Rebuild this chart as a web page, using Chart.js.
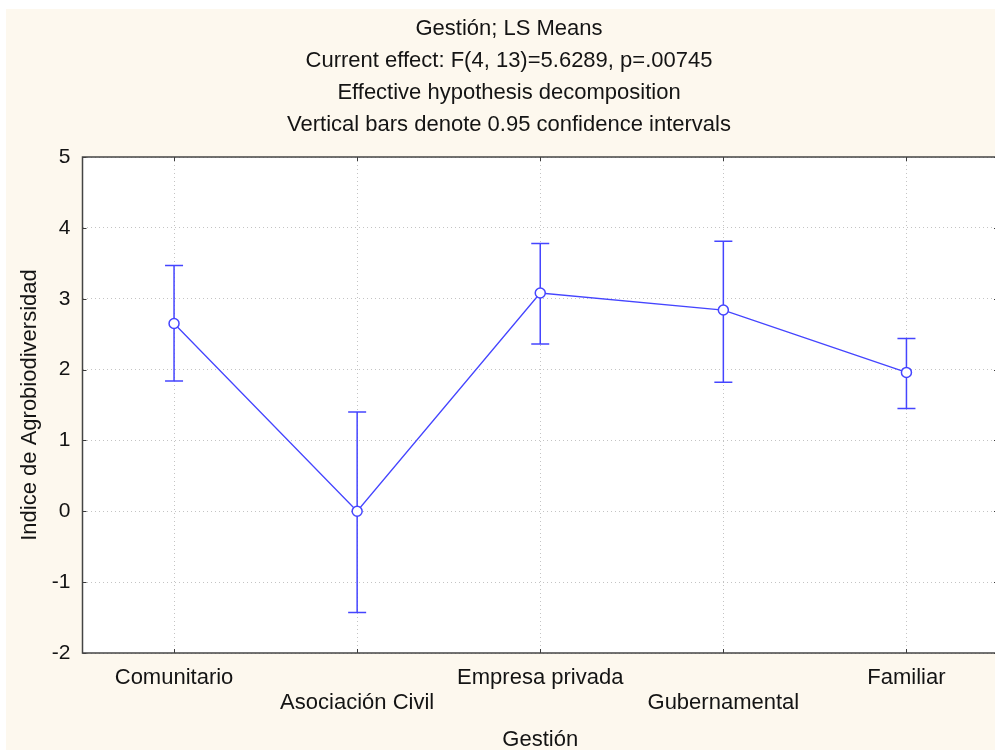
<!DOCTYPE html>
<html lang="es">
<head>
    <meta charset="UTF-8">
    <title>Gestión; LS Means</title>
    <script src="https://cdn.jsdelivr.net/npm/chart.js"></script>
    <style>
        body {
            margin: 0;
            overflow: hidden;
            background: #ffffff;
        }
        #lsChart {
            display: block;
        }
    </style>
</head>
<body>

<canvas id="lsChart" width="998" height="750"></canvas>

<script>
    // Data
    const categories = ['Comunitario', 'Asociación Civil', 'Empresa privada', 'Gubernamental', 'Familiar'];
    const means = [2.65, 0.0, 3.08, 2.84, 1.96];
    const upperCI = [3.47, 1.40, 3.78, 3.81, 2.44];
    const lowerCI = [1.84, -1.43, 2.36, 1.82, 1.45];
    const titleLines = [
        'Gestión; LS Means',
        'Current effect: F(4, 13)=5.6289, p=.00745',
        'Effective hypothesis decomposition',
        'Vertical bars denote 0.95 confidence intervals'
    ];

    const FONT = "'Liberation Sans', Arial, sans-serif";
    const BLUE = '#4545ff';

    // background, titles, frame, inner ticks and error bars
    const decorPlugin = {
        id: 'decor',
        beforeDraw(chart) {
            const c = chart.ctx;
            c.save();
            c.fillStyle = '#ffffff';
            c.fillRect(0, 0, chart.width, chart.height);
            c.fillStyle = '#fdf8ee';
            c.fillRect(6, 9, chart.width - 6, chart.height - 9);
            c.fillStyle = '#ffffff';
            const a = chart.chartArea;
            c.fillRect(a.left, a.top, a.right - a.left, a.bottom - a.top);

            c.fillStyle = '#141414';
            c.font = '22px ' + FONT;
            c.textAlign = 'center';
            c.textBaseline = 'middle';
            titleLines.forEach((t, i) => c.fillText(t, 509, 29 + i * 32));
            c.restore();
        },
        beforeDatasetsDraw(chart) {
            const c = chart.ctx;
            const xs = chart.scales.x, ys = chart.scales.y;
            c.save();
            c.strokeStyle = BLUE;
            c.lineWidth = 1.5;
            categories.forEach((cat, i) => {
                const x = xs.getPixelForValue(i);
                const yt = ys.getPixelForValue(upperCI[i]);
                const yb = ys.getPixelForValue(lowerCI[i]);
                c.beginPath();
                c.moveTo(x, yt); c.lineTo(x, yb);
                c.moveTo(x - 9, yt); c.lineTo(x + 9, yt);
                c.moveTo(x - 9, yb); c.lineTo(x + 9, yb);
                c.stroke();
            });
            c.restore();
        },
        afterDraw(chart) {
            const c = chart.ctx;
            const a = chart.chartArea;
            const xs = chart.scales.x, ys = chart.scales.y;
            c.save();
            c.strokeStyle = '#3a3a3a';
            c.lineWidth = 1;
            c.beginPath();
            ys.ticks.forEach(t => {
                const y = Math.round(ys.getPixelForValue(t.value)) + 0.5;
                c.moveTo(a.left, y); c.lineTo(a.left + 4, y);
                c.moveTo(a.right, y); c.lineTo(a.right - 4, y);
            });
            categories.forEach((cat, i) => {
                const x = Math.round(xs.getPixelForValue(i)) + 0.5;
                c.moveTo(x, a.bottom); c.lineTo(x, a.bottom - 4);
                c.moveTo(x, a.top); c.lineTo(x, a.top + 4);
            });
            c.stroke();
            c.strokeStyle = '#444444';
            c.lineWidth = 1.5;
            c.strokeRect(a.left, a.top, a.right - a.left, a.bottom - a.top);
            c.restore();
        }
    };

    const ctx = document.getElementById('lsChart').getContext('2d');
    const lsChart = new Chart(ctx, {
        type: 'line',
        data: {
            labels: categories,
            datasets: [{
                label: 'LS Means',
                data: means,
                borderColor: BLUE,
                borderWidth: 1.3,
                pointRadius: 5,
                pointBorderWidth: 1.5,
                pointBackgroundColor: '#ffffff',
                pointBorderColor: BLUE,
                tension: 0
            }]
        },
        options: {
            responsive: false,
            animation: false,
            layout: { autoPadding: false, padding: { top: 157, left: 0, right: 0, bottom: 0 } },
            plugins: {
                legend: { display: false },
                tooltip: { enabled: false }
            },
            scales: {
                x: {
                    offset: true,
                    afterFit: s => { s.height = 97; s.paddingRight = 0; s.paddingLeft = 0; },
                    grid: {
                        color: '#c4c4c4',
                        lineWidth: 1,
                        drawTicks: false,
                        offset: false
                    },
                    border: { display: false, dash: [1, 3] },
                    ticks: {
                        color: '#141414',
                        padding: 12,
                        maxRotation: 0,
                        autoSkip: false,
                        font: { family: FONT, size: 22, lineHeight: 1.15 },
                        callback: function (v, i) {
                            return i % 2 ? ['', categories[i]] : categories[i];
                        }
                    },
                    title: {
                        display: true,
                        text: 'Gestión',
                        color: '#141414',
                        font: { family: FONT, size: 22, lineHeight: 1.2 },
                        padding: { top: 0, bottom: -3 }
                    }
                },
                y: {
                    min: -2,
                    max: 5,
                    afterFit: s => { s.width = 82.5; },
                    grid: {
                        color: '#c4c4c4',
                        lineWidth: 1,
                        drawTicks: false
                    },
                    border: { display: false, dash: [1, 3] },
                    ticks: {
                        stepSize: 1,
                        color: '#141414',
                        padding: 12,
                        font: { family: FONT, size: 21 }
                    },
                    title: {
                        display: true,
                        text: 'Indice de Agrobiodiversidad',
                        color: '#141414',
                        font: { family: FONT, size: 22, lineHeight: 1.2 },
                        padding: { top: 17, bottom: 0 }
                    }
                }
            }
        },
        plugins: [decorPlugin]
    });
</script>

</body>
</html>
